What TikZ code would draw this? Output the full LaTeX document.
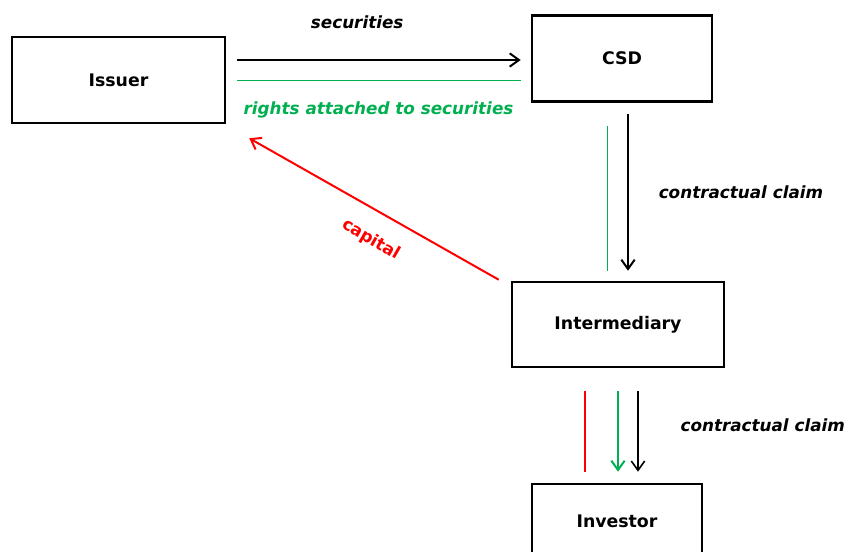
\documentclass[tikz,border=0pt]{standalone}
\usepackage{fontspec}
\setmainfont{DejaVu Sans}
\usetikzlibrary{arrows.meta,positioning}
\definecolor{capred}{RGB}{255,0,0}
\definecolor{rightgreen}{RGB}{0,176,80}

\begin{document}
\begin{tikzpicture}[x=0.75pt,y=0.75pt,yscale=-1,xscale=1,
  party/.style={draw,line width=1.9pt,font=\fontsize{13}{15}\selectfont\bfseries,inner sep=0pt},
  flow/.style={line width=1.5pt,-{Straight Barb[length=7pt,width=10pt]}},
  thin green/.style={draw=rightgreen,line width=0.75pt},
  flowlabel/.style={font=\fontsize{12.6}{15}\selectfont\bfseries\itshape}]
\useasboundingbox (0,0) rectangle (846,552);

%Shape: Rectangle
\node [party,minimum width=159.75pt,minimum height=64.5pt] (issuer) at (118.5,80) {Issuer};
%Shape: Rectangle
\node [party,minimum width=135pt,minimum height=64.5pt] (csd) at (622,58.5) {CSD};
%Shape: Rectangle
\node [party,minimum width=159pt,minimum height=63.75pt] (inter) at (618,324.5) {Intermediary};
%Shape: Rectangle
\node [party,minimum width=127.5pt,minimum height=55.5pt] (inv) at (617,521) {Investor};

%Straight Lines: issuer -> csd
\draw [flow,shorten <=8.25pt,shorten >=7.5pt] ([yshift=-15pt]issuer.east) -- ([yshift=-15pt]issuer.east -| csd.west)
  node [flowlabel,pos=0.43,above=19pt] (seclbl) {securities};
\draw [thin green,shorten <=8.25pt,shorten >=7.5pt] ([yshift=0.75pt]issuer.east) -- ([yshift=0.75pt]issuer.east -| csd.west)
  node [flowlabel,text=rightgreen,midway,below=12pt] (rightlbl) {rights attached to securities};

%Straight Lines: csd -> intermediary
\draw [thin green,shorten <=17.25pt,shorten >=7.5pt] ([xshift=-11.25pt]csd.south) -- ([xshift=-11.25pt]csd.south |- inter.north);
\draw [flow,shorten <=8.25pt,shorten >=7.5pt] ([xshift=4.5pt]csd.south) -- ([xshift=4.5pt]csd.south |- inter.north)
  node [flowlabel,midway,right=19pt] (claimA) {contractual claim};

%Straight Lines: intermediary -> issuer
\draw [flow,draw=capred] ([xshift=-9pt,yshift=-0.75pt]inter.north west) -- ([xshift=17.25pt,yshift=10.5pt]issuer.south east)
  node [font=\fontsize{12.6}{15}\selectfont\bfseries,text=capred,pos=0.455,rotate=-30,anchor=north,inner sep=2pt,outer ysep=13pt] (caplbl) {capital};

%Straight Lines: intermediary -> investor
\draw [draw=capred,line width=1.5pt,shorten <=17.25pt,shorten >=8.25pt] ([xshift=-24.75pt]inter.south) -- ([xshift=-24.75pt]inter.south |- inv.north);
\draw [flow,draw=rightgreen,shorten <=17.25pt,shorten >=8.25pt] (inter.south) -- (inter.south |- inv.north);
\draw [flow,line width=1.2pt,shorten <=17.25pt,shorten >=8.25pt] ([xshift=15pt]inter.south) -- ([xshift=15pt]inter.south |- inv.north)
  node [flowlabel,midway,right=28pt] (claimB) {contractual claim};
\end{tikzpicture}
\end{document}
